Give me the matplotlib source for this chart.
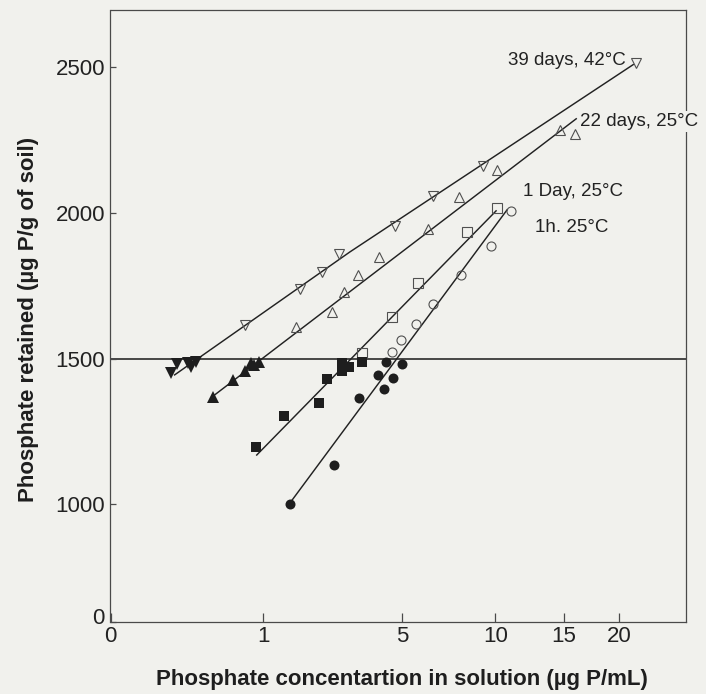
import numpy as np
import matplotlib
matplotlib.use("Agg")
import matplotlib.pyplot as plt
import matplotlib.transforms as mtransforms

plt.rcParams['font.family'] = ['Liberation Sans', 'DejaVu Sans']

# ---- data (x: ug P/mL, y: ug P/g soil) ----
# 39 days, 42°C
d39_open_x = [0.884, 2.07, 2.71, 3.18, 4.80, 6.68, 9.34, 21.5]
d39_open_y = [1616, 1738, 1797, 1858, 1956, 2059, 2160, 2516]
d39_fill_x = [0.398, 0.436, 0.505, 0.528, 0.558]
d39_fill_y = [1451, 1480, 1485, 1471, 1489]
d39_fit_x = [0.42, 3.50, 21.25]
d39_fit_y = [1444, 1866, 2509]

# 22 days, 25°C
d22_open_x = [1.96, 2.97, 3.34, 3.74, 4.34, 6.38, 8.07, 10.12, 14.73, 16.02]
d22_open_y = [1608, 1660, 1729, 1787, 1849, 1945, 2056, 2147, 2285, 2272]
d22_fill_x = [0.669, 0.801, 0.883, 0.919, 0.938, 0.971]
d22_fill_y = [1368, 1425, 1459, 1485, 1478, 1489]
d22_fit_x = [0.669, 16.11]
d22_fit_y = [1370, 2323]

# 1 Day, 25°C
d1_open_x = [3.85, 4.71, 5.87, 8.47, 10.10]
d1_open_y = [1519, 1641, 1759, 1936, 2016]
d1_fill_x = [0.956, 1.60, 2.61, 2.84, 3.26, 3.28, 3.48, 3.84]
d1_fill_y = [1198, 1303, 1347, 1430, 1486, 1458, 1470, 1488]
d1_fit_x = [0.958, 10.05]
d1_fit_y = [1169, 2007]

# 1h, 25°C
h1_open_x = [4.72, 4.97, 5.75, 6.66, 8.16, 9.75, 11.15]
h1_open_y = [1522, 1564, 1618, 1687, 1787, 1888, 2008]
h1_fill_x = [1.77, 3.05, 3.77, 4.32, 4.48, 4.54, 4.75, 5.02]
h1_fill_y = [1001, 1136, 1364, 1444, 1395, 1487, 1435, 1481]
h1_fit_x = [1.77, 10.86]
h1_fit_y = [1004, 2011]

x_ticks = [0, 1, 5, 10, 15, 20]
y_ticks = [0, 1000, 1500, 2000, 2500]
ref_level = 1500

# axis scales of the original drawing are not uniform -> piecewise mapping
XK = [0, 1, 5, 10, 15, 20, 26]
XP = [111, 263.4, 402, 495.3, 563.7, 619.1, 685.6]
YK = [0, 1000, 3000]
YP = [596, 1000, 3000]

BG = '#f1f1ed'
INK = '#1e1e1e'
EDGE = '#505050'

fig = plt.figure(figsize=(7.06, 6.94), dpi=100, facecolor=BG)
ax = fig.add_axes([110.5 / 706, 72 / 694, 575.5 / 706, 612.5 / 694], facecolor=BG)

ax.set_xscale('function', functions=(lambda v: np.interp(v, XK, XP),
                                     lambda p: np.interp(p, XP, XK)))
ax.set_yscale('function', functions=(lambda v: np.interp(v, YK, YP),
                                     lambda p: np.interp(p, YP, YK)))
ax.set_xlim(0, 26)
ax.set_ylim(0, 2698)

ax.axhline(ref_level, color='#2a2a2a', lw=1.2, zorder=1)

# fitted lines
for fx, fy in [(d39_fit_x, d39_fit_y), (d22_fit_x, d22_fit_y),
               (d1_fit_x, d1_fit_y), (h1_fit_x, h1_fit_y)]:
    ax.plot(fx, fy, color='#222222', lw=1.05, zorder=2)

# open markers
open_kw = dict(linestyle='none', markerfacecolor='none', markeredgecolor=EDGE,
               markeredgewidth=0.8, zorder=3)
ax.plot(d39_open_x, d39_open_y, marker='v', markersize=7.5, **open_kw)
ax.plot(d22_open_x, d22_open_y, marker='^', markersize=7.5, **open_kw)
ax.plot(d1_open_x, d1_open_y, marker='s', markersize=6.5, **open_kw)
ax.plot(h1_open_x, h1_open_y, marker='o', markersize=6.5, **open_kw)

# filled markers
fill_kw = dict(linestyle='none', color=INK, markeredgewidth=0, zorder=3)
ax.plot(d39_fill_x, d39_fill_y, marker='v', markersize=8.2, **fill_kw)
ax.plot(d22_fill_x, d22_fill_y, marker='^', markersize=8.2, **fill_kw)
ax.plot(d1_fill_x, d1_fill_y, marker='s', markersize=7.2, **fill_kw)
ax.plot(h1_fill_x, h1_fill_y, marker='o', markersize=7.2, **fill_kw)

# curve labels
lab_kw = dict(transform=ax.transAxes, fontsize=13.5, color='#222222',
              va='baseline', ha='left', zorder=6)
ax.text(0.691, 0.9094, '39 days, 42°C', **lab_kw)
ax.text(0.8158, 0.8103, '22 days, 25°C',
        bbox=dict(facecolor=BG, edgecolor='none', pad=1.5), **lab_kw)
ax.text(0.7173, 0.6955, '1 Day, 25°C', **lab_kw)
ax.text(0.7376, 0.6362, '1h. 25°C', **lab_kw)

# axes styling
for s in ax.spines.values():
    s.set_color('#4a4a4a')
    s.set_linewidth(0.9)
ax.set_xticks(x_ticks)
ax.set_xticklabels([str(t) for t in x_ticks])
ax.set_yticks(y_ticks)
ax.set_yticklabels([str(t) for t in y_ticks])
ax.minorticks_off()
ax.tick_params(axis='x', direction='in', length=6.5, width=0.9, color='#4a4a4a',
               labelsize=16, pad=3, labelcolor='#222222')
ax.tick_params(axis='y', direction='in', length=4.5, width=0.9, color='#4a4a4a',
               labelsize=16, pad=4, labelcolor='#222222')

# the "0" on the y axis sits a little above the corner
off = mtransforms.ScaledTranslation(0, 6 / 100, fig.dpi_scale_trans)
ylab0 = ax.get_yticklabels()[0]
ylab0.set_transform(ylab0.get_transform() + off)

fig.text(402 / 706, 1 - 680 / 694, 'Phosphate concentartion in solution (µg P/mL)',
         ha='center', va='center', fontsize=16, fontweight='bold', color='#1e1e1e')
fig.text(29 / 706, 1 - 319 / 694, 'Phosphate retained (µg P/g of soil)',
         ha='center', va='center', rotation=90, fontsize=16, fontweight='bold',
         color='#1e1e1e')

fig.savefig('out.png', dpi=100, facecolor=BG)
